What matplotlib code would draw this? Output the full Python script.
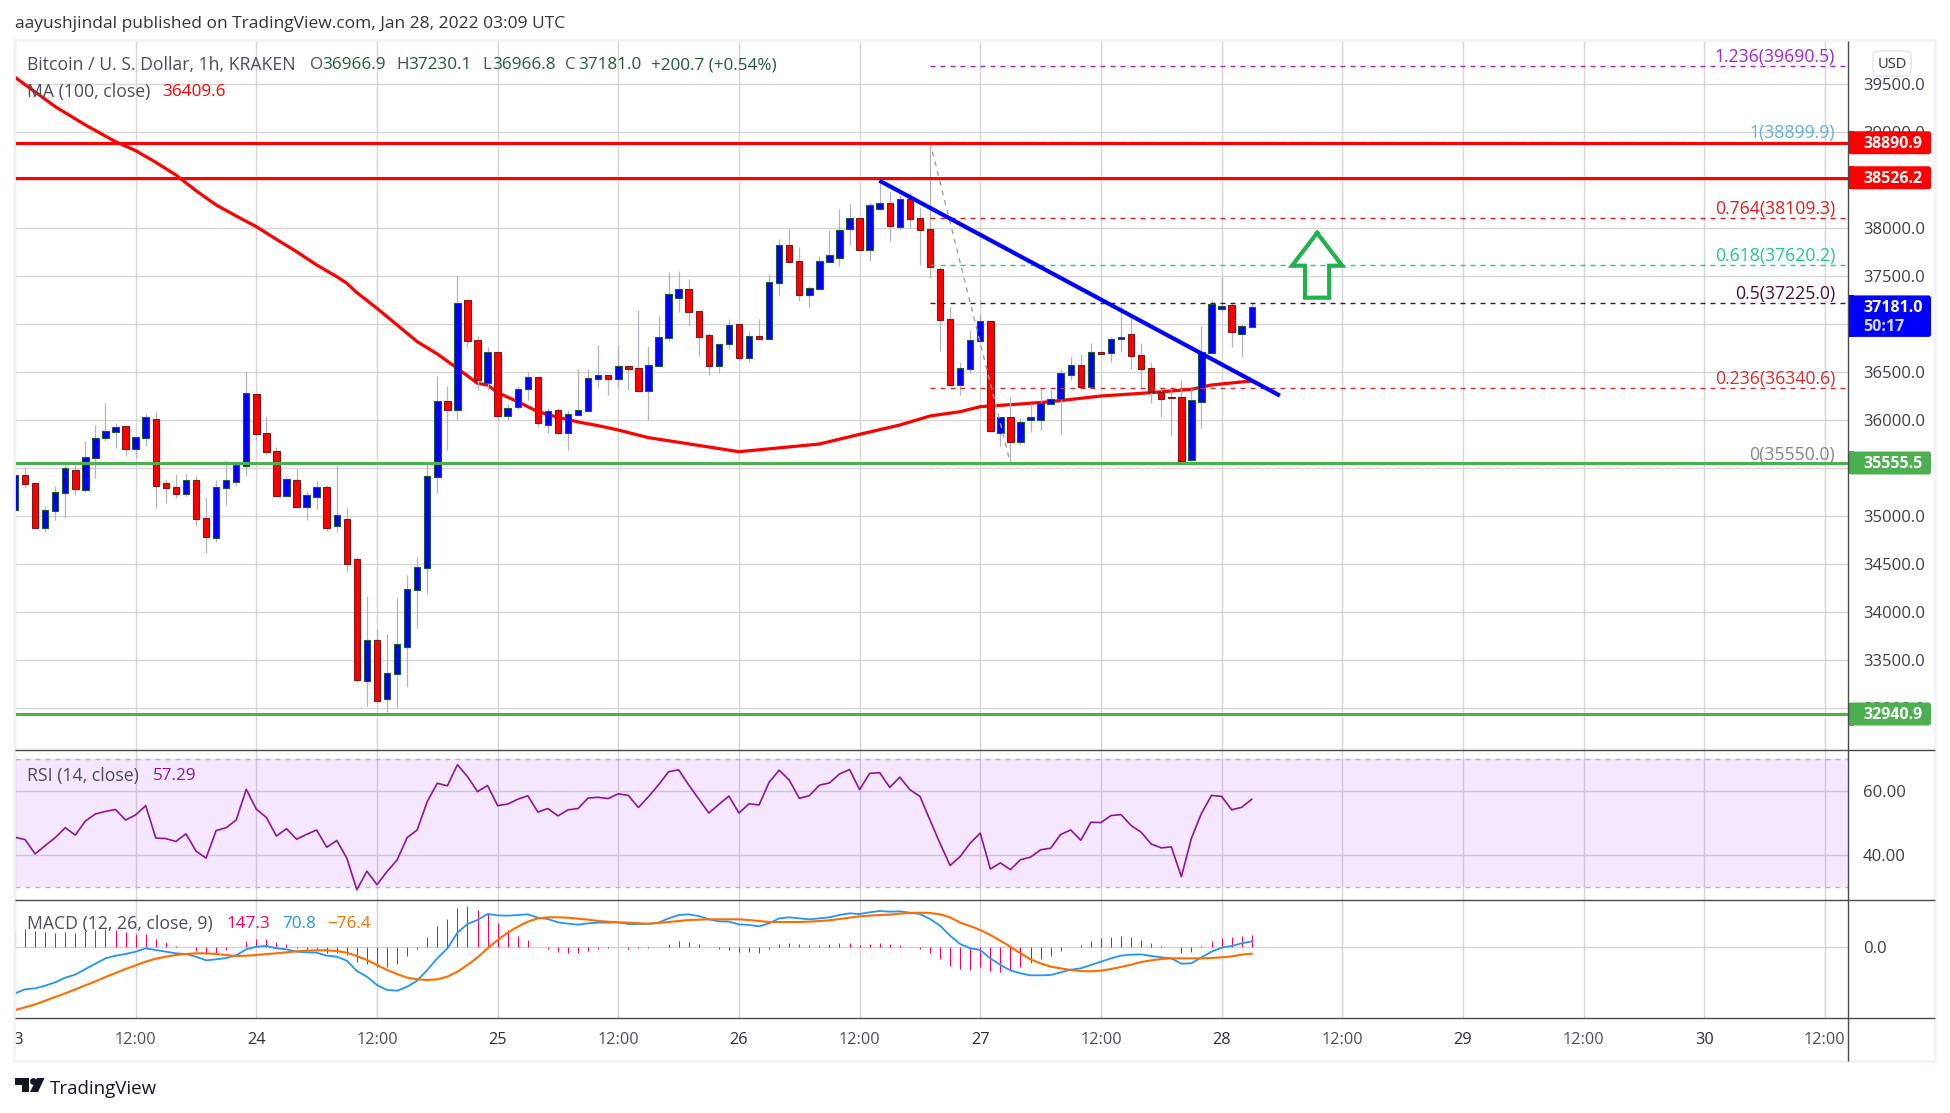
import matplotlib

matplotlib.use("Agg")
import matplotlib.pyplot as plt
from matplotlib.patches import Circle, FancyBboxPatch, Polygon, Rectangle

FONT = "Open Sans"
WIDTH, HEIGHT = 1950, 1113
LEFT, RIGHT = 15, 1848

# hours since Jan 23 00:00, one candle per hour
opens = [
    35066, 35427, 35344, 34882, 35059, 35246, 35479, 35278, 35611, 35819, 35882, 35937, 35705, 35819, 36010, 35344,
    35302, 35236, 35375, 34979, 34778, 35299, 35361, 35528, 36271, 35864, 35677, 35215, 35375, 35101, 35205, 35302,
    34903, 34969, 34552, 33288, 33708, 33101, 33361, 33642, 34236, 34465, 35413, 36198, 36111, 37250, 36833, 36385,
    36708, 36048, 36142, 36323, 36455, 35955, 36104, 35871, 36052, 36101, 36434, 36472, 36434, 36566, 36541, 36309,
    36569, 36861, 37278, 37364, 37135, 36885, 36569, 36798, 37000, 36653, 36875, 36851, 37434, 37823, 37656, 37309,
    37371, 37653, 37694, 37989, 38104, 37778, 38205, 38260, 38017, 38302, 38104, 37989, 37573, 37052, 36371, 36538,
    36830, 37031, 35871, 36031, 35778, 36000, 36007, 36174, 36222, 36476, 36573, 36344, 36712, 36698, 36844, 36896,
    36677, 36542, 36298, 36243, 36239, 35587, 36187, 36705, 37163, 37198, 36903, 36967,
]
highs = [
    35430, 35510, 35354, 35108, 35316, 35552, 35535, 35785, 35951, 36180, 35972, 35937, 35823, 36066, 36087, 35378,
    35441, 35451, 35417, 35201, 35378, 35587, 35552, 36500, 36271, 36045, 35719, 35417, 35493, 35264, 35368, 35323,
    35535, 35087, 34573, 34170, 33826, 33774, 34149, 34389, 34576, 35552, 36462, 36357, 37500, 37250, 36878, 36767,
    36708, 36170, 36357, 36500, 36455, 36125, 36125, 36108, 36531, 36531, 36784, 36472, 36784, 36566, 37149, 36774,
    37087, 37541, 37555, 37472, 37135, 36913, 36792, 37055, 37000, 36930, 37052, 37524, 37889, 37993, 37805, 37399,
    37712, 37982, 38201, 38253, 38104, 38271, 38486, 38389, 38343, 38378, 38225, 38900, 37594, 37177, 36604, 36941,
    37107, 37031, 36031, 36243, 36021, 36177, 36323, 36316, 36535, 36656, 36691, 36802, 36712, 36871, 37201, 37062,
    36802, 36604, 36351, 36344, 36420, 36351, 36982, 37253, 37496, 37229, 37000, 37230,
]
lows = [
    35066, 35299, 34882, 34837, 34962, 34983, 35222, 35257, 35399, 35785, 35712, 35628, 35604, 35736, 35087, 35139,
    35194, 35215, 34903, 34618, 34733, 35118, 35316, 35420, 35792, 35642, 35201, 35215, 35101, 34962, 35076, 34847,
    34837, 34431, 33278, 33024, 33059, 32962, 33014, 33222, 33837, 34191, 35246, 35691, 36003, 36767, 36312, 36316,
    36007, 36003, 36118, 36212, 35934, 35871, 35871, 35691, 36052, 36101, 36351, 36264, 36351, 36316, 36302, 36003,
    36569, 36830, 37125, 36986, 36670, 36472, 36496, 36743, 36628, 36611, 36851, 36851, 37295, 37642, 37243, 37184,
    37371, 37653, 37607, 37826, 37778, 37660, 38205, 37868, 37982, 38000, 37618, 37486, 36726, 36371, 36264, 36489,
    36830, 35882, 35736, 35550, 35743, 35878, 35899, 36170, 35861, 36420, 36344, 36344, 36694, 36608, 36712, 36535,
    36333, 36184, 36038, 35840, 35556, 35576, 35924, 36705, 37132, 36764, 36663, 36967,
]
closes = [
    35430, 35340, 34882, 35062, 35250, 35500, 35288, 35615, 35812, 35885, 35927, 35705, 35823, 36031, 35319, 35299,
    35236, 35375, 34976, 34788, 35302, 35375, 35531, 36281, 35861, 35674, 35215, 35385, 35101, 35219, 35302, 34882,
    35010, 34507, 33299, 33708, 33080, 33365, 33667, 34240, 34469, 35417, 36198, 36111, 37218, 36830, 36416, 36708,
    36048, 36125, 36323, 36455, 35976, 36094, 35871, 36062, 36104, 36437, 36472, 36434, 36562, 36538, 36302, 36573,
    36864, 37312, 37364, 37132, 36871, 36569, 36792, 36989, 36653, 36875, 36851, 37437, 37823, 37653, 37309, 37375,
    37656, 37719, 37979, 38104, 37778, 38239, 38260, 38028, 38302, 38100, 37986, 37594, 37048, 36371, 36542, 36833,
    37031, 35892, 36031, 35778, 35979, 36031, 36177, 36219, 36489, 36573, 36344, 36708, 36694, 36844, 36864, 36673,
    36538, 36292, 36226, 36236, 35576, 36208, 36715, 37208, 37187, 36917, 36979, 37181,
]

ma_hours = [
    0, 4, 7, 10, 12, 14, 16, 18, 20, 22, 24, 26, 28, 30, 32, 33, 34, 36, 38, 40, 42, 44, 46, 47, 48, 50, 52, 54, 56,
    58, 60, 63, 66, 72, 78, 80, 84, 88, 91, 94, 96, 100, 103, 108, 113, 117, 119, 123,
]
ma_values = [
    39573, 39267, 39076, 38902, 38809, 38687, 38555, 38392, 38243, 38128, 38017, 37885, 37757, 37618, 37496, 37427,
    37330, 37166, 36993, 36819, 36691, 36541, 36385, 36368, 36288, 36194, 36090, 36031, 35983, 35944, 35899, 35819,
    35771, 35673, 35733, 35753, 35854, 35951, 36045, 36090, 36142, 36170, 36194, 36253, 36288, 36323, 36368, 36410,
]

rsi_values = [
    45.4, 44.7, 40.2, 42.8, 45.3, 48.4, 46.1, 50.5, 52.7, 53.5, 54.1, 50.8, 52.4, 55.3, 45.2, 45.0, 44.1, 46.5, 41.1,
    38.9, 47.5, 48.4, 50.8, 60.4, 54.2, 51.6, 45.8, 48.1, 44.8, 46.3, 47.7, 42.3, 44.4, 38.9, 29.0, 34.8, 30.6, 34.7,
    38.3, 45.3, 47.7, 56.6, 62.3, 61.5, 68.1, 64.4, 59.7, 61.6, 55.3, 55.8, 57.3, 58.4, 53.3, 54.4, 52.1, 54.0, 54.4,
    57.7, 57.9, 57.5, 59.0, 58.5, 54.7, 58.1, 61.8, 65.9, 66.5, 61.8, 57.4, 53.0, 55.7, 58.3, 53.0, 55.9, 55.5, 62.6,
    66.4, 63.3, 57.6, 58.4, 61.7, 62.4, 65.2, 66.6, 60.3, 65.4, 65.6, 61.0, 64.2, 60.3, 58.2, 50.8, 43.5, 36.6, 39.4,
    43.6, 46.7, 35.5, 37.4, 35.3, 38.4, 39.2, 41.5, 42.0, 46.3, 47.7, 44.5, 50.1, 50.0, 52.2, 52.5, 49.1, 47.0, 43.3,
    42.1, 42.4, 33.1, 45.1, 52.9, 58.5, 58.2, 54.0, 54.8, 57.3,
]
macd_values = [
    -552, -504, -492, -460, -420, -364, -328, -260, -196, -132, -100, -80, -52, -12, -32, -52, -72, -80, -112, -156,
    -144, -128, -96, -24, 8, 16, -12, -24, -52, -60, -64, -100, -112, -160, -284, -352, -452, -512, -520, -472, -400,
    -272, -132, -12, 176, 280, 328, 400, 384, 380, 388, 396, 356, 340, 300, 284, 272, 288, 296, 296, 300, 280, 280,
    280, 296, 348, 388, 396, 376, 336, 312, 308, 276, 268, 252, 288, 348, 360, 348, 336, 348, 360, 388, 408, 400, 420,
    436, 428, 432, 416, 400, 340, 260, 140, 40, -12, -32, -132, -212, -276, -312, -336, -336, -332, -300, -268, -252,
    -212, -172, -132, -100, -88, -84, -104, -120, -132, -196, -192, -120, -52, -4, 16, 48, 71,
]
signal_values = [
    -752, -720, -684, -640, -596, -552, -504, -456, -408, -356, -308, -260, -216, -172, -136, -112, -92, -80, -72, -72,
    -80, -92, -104, -100, -92, -80, -72, -60, -48, -40, -36, -36, -44, -64, -104, -152, -212, -272, -320, -364, -384,
    -392, -384, -352, -292, -212, -120, -12, 88, 176, 248, 308, 348, 360, 360, 356, 344, 332, 316, 308, 300, 296, 288,
    284, 292, 304, 316, 328, 332, 336, 336, 336, 336, 328, 316, 304, 304, 304, 304, 308, 316, 324, 340, 356, 372, 380,
    388, 392, 404, 412, 416, 412, 396, 360, 296, 256, 208, 148, 80, 8, -72, -144, -192, -232, -252, -272, -284, -288,
    -280, -260, -236, -208, -176, -156, -140, -132, -132, -132, -132, -128, -120, -108, -88, -76,
]

price_ticks = [33000 + 500 * i for i in range(14)]
# these tick labels sit fully behind the price tags in the reference
covered_ticks = [35500, 37000, 38500]
time_ticks = [12 * i for i in range(16)]
time_labels = [
    "23", "12:00", "24", "12:00", "25", "12:00", "26", "12:00", "27", "12:00", "28", "12:00", "29", "12:00", "30",
    "12:00",
]

fib_levels = [39690.5, 38899.9, 38109.3, 37620.2, 37225.0, 36340.6, 35550.0]
fib_names = ["1.236", "1", "0.764", "0.618", "0.5", "0.236", "0"]
fib_colors = ["#9c27e0", "#5fb0e0", "#e01c1c", "#1fc98f", "#4a0d3a", "#d32f2f", "#858585"]
fib_start, fib_end = 91, 99

red_levels = [38890.9, 38526.2]
green_levels = [35555.5, 32940.9]
last_price = 37181.0

trend_hours = [85.97, 125.8]
trend_prices = [38496, 36257]
arrow_hours = [129.5, 132.0, 130.7, 130.7, 128.3, 128.3, 127.0, 129.5]
arrow_prices = [37951, 37610, 37610, 37277, 37277, 37610, 37610, 37951]


def make_pane(fig, top, bottom, ylim, yticks, ylabels):
    ax = fig.add_axes([LEFT / WIDTH, 1 - bottom / HEIGHT, (RIGHT - LEFT) / WIDTH, (bottom - top) / HEIGHT])
    ax.set_xlim(0, 182.3)
    ax.set_ylim(*ylim)
    ax.set_xticks(time_ticks)
    ax.set_yticks(yticks)
    ax.set_yticklabels(ylabels, fontsize=12, color="#3b3e46", family=FONT)
    ax.yaxis.tick_right()
    ax.tick_params(axis="y", length=0, pad=10.8)
    ax.tick_params(axis="x", length=0, labelbottom=False)
    ax.grid(color="#d6d6d6", linewidth=1.0)
    ax.set_axisbelow(True)
    for spine in ax.spines.values():
        spine.set_visible(False)
    return ax


def draw_main(ax):
    hours = range(len(opens))
    ax.plot(ma_hours, ma_values, color="#ff0000", linewidth=2.3, zorder=2)
    ax.vlines(hours, lows, highs, colors="#b2b5be", linewidth=0.9, zorder=3)
    fill = ["#0000ff" if c >= o else "#ff0000" for o, c in zip(opens, closes)]
    edge = ["#1e5c2e" if c >= o else "#7a1a1a" for o, c in zip(opens, closes)]
    bottoms = [min(o, c) for o, c in zip(opens, closes)]
    sizes = [abs(c - o) for o, c in zip(opens, closes)]
    ax.bar(hours, sizes, bottom=bottoms, width=0.64, color=fill, edgecolor=edge, linewidth=0.8, zorder=4)

    for level, color in zip(fib_levels, fib_colors):
        ax.hlines(level, fib_start, 182.3, colors=color, linewidth=1.0, linestyles=(0, (3.6, 3.6)), zorder=5)
    ax.plot(
        [fib_start, fib_end], [fib_levels[1], fib_levels[-1]], color="#a0a0a0", linewidth=1.0,
        linestyle=(0, (3.6, 3.6)), zorder=5,
    )
    for level in red_levels:
        ax.axhline(level, color="#ff0000", linewidth=2.2, zorder=6)
    for level in green_levels:
        ax.axhline(level, color="#4caf50", linewidth=2.2, zorder=6)
    ax.plot(trend_hours, trend_prices, color="#0000ff", linewidth=3.0, zorder=7, solid_capstyle="butt")
    ax.plot(arrow_hours, arrow_prices, color="#22b14c", linewidth=3.0, zorder=7, solid_joinstyle="miter")


def price_tag(canvas, ax, value, color, second_line=None):
    y = HEIGHT - ax.transData.transform((0, value))[1]
    top, height = (y - 11.5, 41.5) if second_line else (y - 11.5, 23)
    canvas.add_patch(
        FancyBboxPatch(
            (RIGHT + 3, top + 2), 78, height - 4, boxstyle="round,pad=2,rounding_size=2.5", facecolor=color,
            edgecolor="none",
        )
    )
    canvas.add_patch(Rectangle((RIGHT, top), 6, height, facecolor=color, edgecolor="none"))
    canvas.text(RIGHT + 15, y + 1, f"{value:.1f}", color="white", fontsize=11.5, weight="bold", va="center", family=FONT)
    if second_line:
        canvas.text(RIGHT + 15, y + 20, second_line, color="#d8d8ff", fontsize=11.5, weight="bold", va="center", family=FONT)


def draw_chrome(canvas, main_ax):
    canvas.add_patch(Rectangle((14, 40), 1921, 1021, fill=False, edgecolor="#f0f3fa", linewidth=2))
    canvas.hlines([750, 900, 1018], 15, 1935, colors="#4a4a4a", linewidth=1.0)
    canvas.vlines(RIGHT, 41, 1061, colors="#4a4a4a", linewidth=1.0)

    words = {"fontsize": 12.7, "va": "center", "family": FONT}
    numbers = {"fontsize": 12.3, "va": "center", "family": FONT}
    canvas.text(
        15, 24.5, "aayushjindal published on TradingView.com, Jan 28, 2022 03:09 UTC", color="#333333", fontsize=12.55,
        va="center", family=FONT,
    )
    canvas.text(27, 65, "Bitcoin / U. S. Dollar, 1h, KRAKEN", color="#4a4e59", **words)
    legend_parts = [
        (310, "O", "#4a4e59"), (322.6, "36966.9", "#1e5c3a"), (396.8, "H", "#4a4e59"), (408.4, "37230.1", "#1e5c3a"),
        (482, "L", "#4a4e59"), (492, "36966.8", "#1e5c3a"), (565.5, "C", "#4a4e59"), (578, "37181.0", "#1e5c3a"),
        (651, "+200.7 (+0.54%)", "#1e5c3a"),
    ]
    for x, part, color in legend_parts:
        canvas.text(x, 65, part, color=color, **numbers)
    canvas.text(27, 91.5, "MA (100, close)", color="#4a4e59", **words)
    canvas.text(161.7, 91.5, "36409.6", color="#ff0000", **numbers)
    canvas.text(27, 775.5, "RSI (14, close)", color="#4a4e59", **words)
    canvas.text(152.6, 775.5, "57.29", color="#8e1599", **numbers)
    canvas.text(27, 924, "MACD (12, 26, close, 9)", color="#4a4e59", **words)
    canvas.text(227, 924, "147.3", color="#ff0066", **numbers)
    canvas.text(282, 924, "70.8", color="#2196f3", **numbers)
    canvas.text(327.5, 924, "\u221276.4", color="#ff6d00", **numbers)

    for level, name, color in zip(fib_levels, fib_names, fib_colors):
        y = HEIGHT - main_ax.transData.transform((0, level))[1]
        canvas.text(1835, y - 8.5, f"{name}({level:.1f})", color=color, ha="right", **words)

    for level in red_levels:
        price_tag(canvas, main_ax, level, "#ff0000")
    for level in green_levels:
        price_tag(canvas, main_ax, level, "#4caf50")
    price_tag(canvas, main_ax, last_price, "#0000ff", second_line="50:17")

    canvas.add_patch(
        FancyBboxPatch(
            (1875, 53), 34, 21, boxstyle="round,pad=2,rounding_size=5", facecolor="white", edgecolor="#e0e3eb",
            linewidth=1.0,
        )
    )
    canvas.text(1892, 64, "USD", color="#333333", fontsize=10.5, ha="center", va="center", family=FONT)

    # TradingView logo mark
    logo = "#131722"
    canvas.add_patch(Polygon([(15, 1078), (29, 1078), (29, 1092), (22, 1092), (22, 1085), (15, 1085)], color=logo, lw=0))
    canvas.add_patch(Circle((33.5, 1081.5), 3.4, color=logo, lw=0))
    canvas.add_patch(Polygon([(37, 1078), (44.5, 1078), (38, 1092), (30, 1092)], color=logo, lw=0))
    canvas.text(50, 1089, "TradingView", color=logo, fontsize=13.5, va="center", family=FONT)


def main() -> None:
    fig = plt.figure(figsize=(WIDTH / 100, HEIGHT / 100), dpi=100, facecolor="white")
    hours = list(range(len(opens)))

    price_labels = ["" if p in covered_ticks else f"{p:.1f}" for p in price_ticks]
    main_ax = make_pane(fig, 40, 750, (32566, 39961), price_ticks, price_labels)
    draw_main(main_ax)

    rsi_ax = make_pane(fig, 750, 900, (25.8, 72.7), [40, 60], ["40.00", "60.00"])
    rsi_ax.axhspan(30, 70, color="#9915ff", alpha=0.1, linewidth=0, zorder=1)
    for level in [30, 70]:
        rsi_ax.axhline(level, color="#b9b2bd", linewidth=1.0, linestyle=(0, (3.6, 3.6)), zorder=2)
    rsi_ax.plot(hours, rsi_values, color="#8e1599", linewidth=1.2, zorder=3)

    macd_ax = make_pane(fig, 900, 1018, (-848, 568), [0], ["0.0"])
    hist_values = [m - s for m, s in zip(macd_values, signal_values)]
    macd_ax.vlines(hours, 0, hist_values, colors="#ff0066", linewidth=0.75, zorder=2)
    macd_ax.plot(hours, macd_values, color="#2196f3", linewidth=1.3, zorder=3)
    macd_ax.plot(hours, signal_values, color="#ff6d00", linewidth=1.5, zorder=3)

    time_ax = fig.add_axes([LEFT / WIDTH, 1 - 1061 / HEIGHT, (RIGHT - LEFT) / WIDTH, 43 / HEIGHT])
    time_ax.set_xlim(0, 182.3)
    time_ax.set_ylim(0, 1)
    time_ax.axis("off")
    for hour, label in zip(time_ticks, time_labels):
        color = "#4a4e59" if ":" in label else "#2a2e39"
        time_ax.text(
            hour, 0.5, label, color=color, fontsize=11.7, ha="center", va="center", clip_on=True, family=FONT,
        )

    canvas = fig.add_axes([0, 0, 1, 1], zorder=10)
    canvas.set_xlim(0, WIDTH)
    canvas.set_ylim(HEIGHT, 0)
    canvas.axis("off")
    draw_chrome(canvas, main_ax)

    fig.savefig("out.png", dpi=100)
    plt.close(fig)


if __name__ == "__main__":
    main()
